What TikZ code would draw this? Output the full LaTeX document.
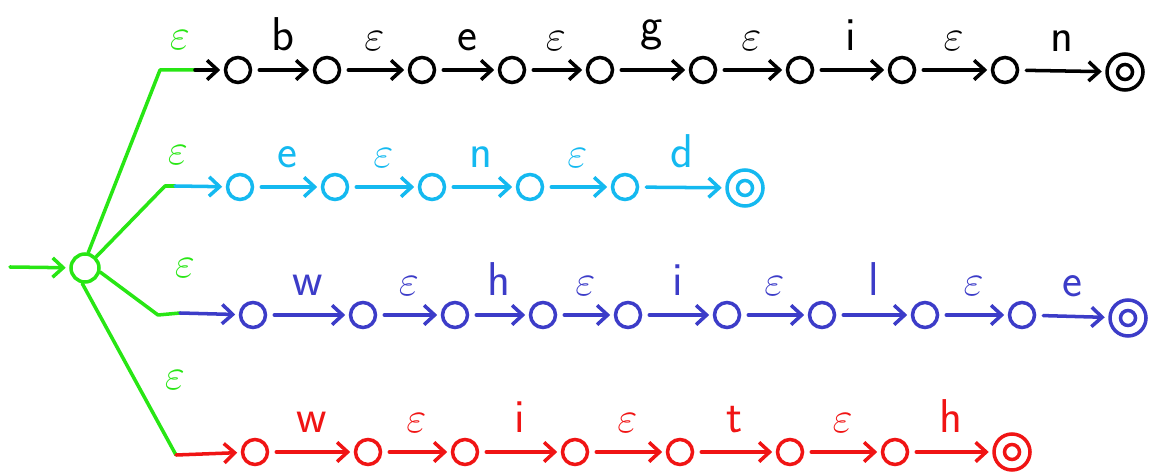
\documentclass[tikz,border=0pt]{standalone}
\usetikzlibrary{arrows.meta}
\definecolor{grn}{RGB}{40,230,20}
\definecolor{cyn}{RGB}{20,185,240}
\definecolor{blu}{RGB}{60,60,200}
\definecolor{rd}{RGB}{240,20,20}
\newcommand{\eps}{{\fontsize{34}{34}\selectfont$\varepsilon$}}
\tikzset{
  st/.style={circle, draw, line width=2pt, minimum size=0.5cm, inner sep=0pt},
  acc/.style={st, minimum size=0.72cm,
    path picture={\draw[line width=2pt] (path picture bounding box.center) circle (0.15cm);}},
  tr/.style={line width=2pt, line cap=round, -{Straight Barb[length=6pt,width=11pt]},
    shorten >=2pt, shorten <=4pt},
  lbl/.style={font=\sffamily\fontsize{27}{28}\selectfont, inner sep=2pt},
  br/.style={grn, line width=2pt, line cap=round, line join=round}
}
\begin{document}
\begin{tikzpicture}[x=0.02cm, y=-0.02cm]
\useasboundingbox (0,0) rectangle (1175,475);

% start state
\node[st, grn, minimum size=0.56cm] (s) at (85,268) {};
\coordinate (in) at (10,267);
\draw[tr, grn, shorten <=0pt] (in) -- (s);

% row 1: begin
\foreach \x [count=\i] in {238,327,422,512,600,703,800,902,1005}
  \node[st] (a\i) at (\x,70) {};
\node[acc] (a10) at (1125,72) {};
\foreach \l [count=\i] in {b,\eps,e,\eps,g,\eps,i,\eps,n} {
  \pgfmathtruncatemacro\j{\i+1}
  \draw[tr] (a\i) -- node[lbl, above=8pt] {\l} (a\j);
}
\coordinate (c1) at (160,70);
\coordinate (e1) at (195,70);
\draw[br] (s.78) -- (c1) -- (e1);
\draw[tr, shorten <=0pt] (e1) -- (a1);
\node[lbl, grn] (eps1) at (180,40) {\eps};

% row 2: end
\foreach \x [count=\i] in {240,335,432,530,625}
  \node[st, cyn] (b\i) at (\x,187) {};
\node[acc, cyn] (b6) at (745,188) {};
\foreach \l [count=\i] in {e,\eps,n,\eps,d} {
  \pgfmathtruncatemacro\j{\i+1}
  \draw[tr, cyn] (b\i) -- node[lbl, above=8pt] {\l} (b\j);
}
\coordinate (c2) at (165,186);
\coordinate (e2) at (175,186);
\draw[br] (s.45) -- (c2) -- (e2);
\draw[tr, cyn, shorten <=0pt] (e2) -- (b1);
\node[lbl, grn] (eps2) at (178,155) {\eps};

% row 3: while
\foreach \x [count=\i] in {253,363,455,543,628,727,822,925,1022}
  \node[st, blu] (w\i) at (\x,315) {};
\node[acc, blu] (w10) at (1128,318) {};
\foreach \l [count=\i] in {w,\eps,h,\eps,i,\eps,l,\eps,e} {
  \pgfmathtruncatemacro\j{\i+1}
  \draw[tr, blu] (w\i) -- node[lbl, above=8pt] {\l} (w\j);
}
\coordinate (c3) at (158,315);
\coordinate (e3) at (180,313);
\draw[br] (s.-15) -- (c3) -- (e3);
\draw[tr, blu, shorten <=0pt] (e3) -- (w1);
\node[lbl, grn] (eps3) at (185,268) {\eps};

% row 4: with
\foreach \x [count=\i] in {255,368,465,575,680,790,895}
  \node[st, rd] (r\i) at (\x,452) {};
\node[acc, rd] (r8) at (1012,452) {};
\foreach \l [count=\i] in {w,\eps,i,\eps,t,\eps,h} {
  \pgfmathtruncatemacro\j{\i+1}
  \draw[tr, rd] (r\i) -- node[lbl, above=8pt] {\l} (r\j);
}
\coordinate (c4) at (176,455);
\draw[br] (s.-100) -- (c4);
\draw[tr, rd, shorten <=0pt] (c4) -- (r1);
\node[lbl, grn] (eps4) at (175,380) {\eps};
\end{tikzpicture}
\end{document}
